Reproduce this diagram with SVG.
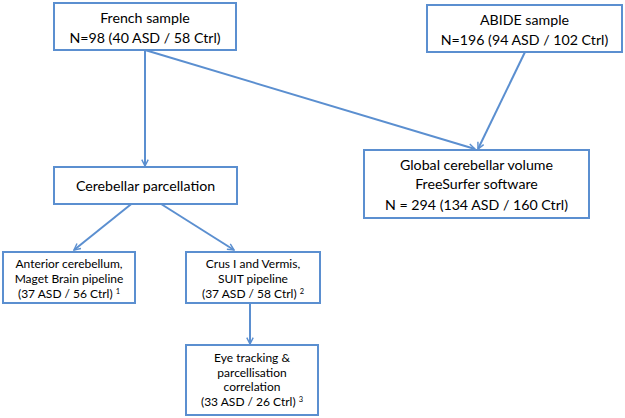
<svg xmlns="http://www.w3.org/2000/svg" width="625" height="418" viewBox="0 0 625 418">
<defs>
<style>
.box{fill:#fff;stroke:#5b8fd0;stroke-width:2}
.ln{fill:none;stroke:#5b8fd0;stroke-width:2}
.t{font-family:Lato,"Open Sans","Liberation Sans",sans-serif;fill:#000;text-anchor:middle}
.big{font-size:14.2px}
.sm{font-size:12px}
.sup{font-size:7.5px}
</style>
<marker id="ah" viewBox="0 0 10 10" refX="9" refY="5" markerWidth="8" markerHeight="8" orient="auto" markerUnits="userSpaceOnUse">
<path d="M1,1 L9,5 L1,9" fill="none" stroke="#5b8fd0" stroke-width="1.8"/>
</marker>
</defs>
<rect width="625" height="418" fill="#fff"/>
<g id="connectors">
<line class="ln" x1="145" y1="50" x2="145" y2="166" marker-end="url(#ah)"/>
<line class="ln" x1="145" y1="50" x2="475" y2="149" marker-end="url(#ah)"/>
<line class="ln" x1="525" y1="52" x2="478" y2="149" marker-end="url(#ah)"/>
<line class="ln" x1="140" y1="197" x2="74" y2="250" marker-end="url(#ah)"/>
<line class="ln" x1="150" y1="197" x2="234" y2="250" marker-end="url(#ah)"/>
<line class="ln" x1="250" y1="303" x2="250" y2="344" marker-end="url(#ah)"/>
</g>
<g id="french">
<rect class="box" x="54" y="3" width="182" height="47"/>
<text class="t big" x="145" y="23">French sample</text>
<text class="t big" x="145" y="43">N=98 (40 ASD / 58 Ctrl)</text>
</g>
<g id="abide">
<rect class="box" x="427" y="5" width="195" height="47"/>
<text class="t big" x="524.5" y="25">ABIDE sample</text>
<text class="t big" x="524.5" y="45">N=196 (94 ASD / 102 Ctrl)</text>
</g>
<g id="global">
<rect class="box" x="364" y="150" width="225" height="68"/>
<text class="t big" x="476.5" y="170">Global cerebellar volume</text>
<text class="t big" x="476.5" y="189">FreeSurfer software</text>
<text class="t big" x="476.5" y="210">N = 294 (134 ASD / 160 Ctrl)</text>
</g>
<g id="parcellation">
<rect class="box" x="54" y="167" width="183" height="37"/>
<text class="t big" x="145.5" y="191">Cerebellar parcellation</text>
</g>
<g id="anterior">
<rect class="box" x="3" y="252" width="132" height="51"/>
<text class="t sm" x="69" y="268">Anterior cerebellum,</text>
<text class="t sm" x="69" y="283">Maget Brain pipeline</text>
<text class="t sm" x="69" y="298">(37 ASD / 56 Ctrl) <tspan class="sup" dy="-4">1</tspan></text>
</g>
<g id="crus">
<rect class="box" x="186" y="252" width="134" height="51"/>
<text class="t sm" x="253" y="268">Crus I and Vermis,</text>
<text class="t sm" x="253" y="283">SUIT pipeline</text>
<text class="t sm" x="253" y="298">(37 ASD / 58 Ctrl) <tspan class="sup" dy="-4">2</tspan></text>
</g>
<g id="eyetracking">
<rect class="box" x="186" y="345" width="132" height="70"/>
<text class="t sm" x="252" y="362">Eye tracking &amp;</text>
<text class="t sm" x="252" y="377">parcellisation</text>
<text class="t sm" x="252" y="391">correlation</text>
<text class="t sm" x="252" y="406">(33 ASD / 26 Ctrl) <tspan class="sup" dy="-4">3</tspan></text>
</g>
</svg>
